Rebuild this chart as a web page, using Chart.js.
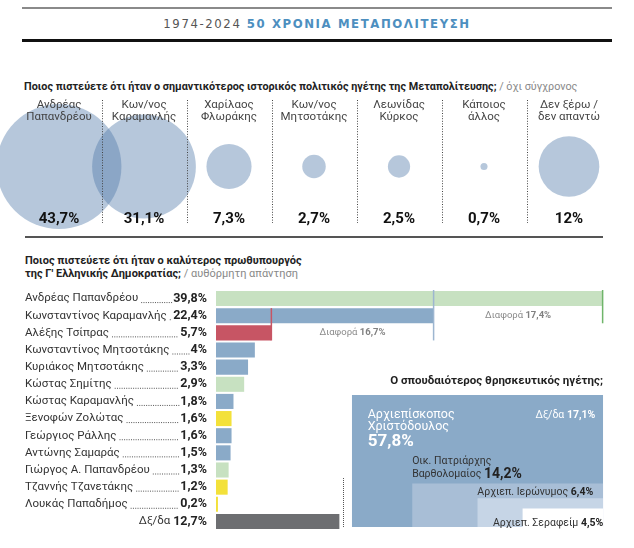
<!DOCTYPE html>
<html>
<head>
<meta charset="utf-8">
<script src="https://cdn.jsdelivr.net/npm/chart.js"></script>
<style>
body { margin: 0; width: 634px; height: 548px; position: relative; background: #fff; overflow: hidden;
       font-family: Roboto, "Noto Sans", sans-serif; color: #222; }
.abs { position: absolute; }
.linea { position: absolute; left: 22px; width: 590px; }
.titulo { left: 0; width: 634px; top: 16px; text-align: center; font-family: "DejaVu Sans Condensed", "DejaVu Sans", sans-serif;
          font-stretch: condensed; font-size: 13px; letter-spacing: 1.6px; color: #555; }
.titulo b { color: #4d8fbf; }
.pregunta { font-size: 11px; font-weight: bold; color: #222; line-height: 13px; }
.pregunta span { font-weight: normal; color: #888; }
</style>
</head>
<body>
<div class="linea" style="top:7px;height:2px;background:#8a8a8a"></div>
<div class="abs titulo">1974-2024 <b>50 ΧΡΟΝΙΑ ΜΕΤΑΠΟΛΙΤΕΥΣΗ</b></div>
<div class="linea" style="top:39px;height:3px;background:#111"></div>

<div class="abs pregunta" style="left:24px;top:80px;font-size:10.8px">Ποιος πιστεύετε ότι ήταν ο σημαντικότερος ιστορικός πολιτικός ηγέτης της Μεταπολίτευσης; <span>/ όχι σύγχρονος</span></div>
<canvas id="chartLideres" class="abs" style="left:0;top:95px" width="634" height="143"></canvas>
<div class="abs" style="left:25px;top:236px;width:578px;height:1.5px;background:#555"></div>

<div class="abs pregunta" style="left:25px;top:254px">Ποιος πιστεύετε ότι ήταν ο καλύτερος πρωθυπουργός<br>της Γ' Ελληνικής Δημοκρατίας; <span>/ αυθόρμητη απάντηση</span></div>
<canvas id="chartPrimeros" class="abs" style="left:0;top:290px" width="634" height="240"></canvas>

<div class="abs pregunta" style="left:340px;top:374px;width:263px;text-align:right;font-size:11.5px">Ο σπουδαιότερος θρησκευτικός ηγέτης;</div>
<div class="abs" style="left:343px;top:478px;height:49px;border-left:1px dotted #555"></div>
<canvas id="chartReligiosos" class="abs" style="left:340px;top:390px" width="294" height="145"></canvas>

<script>
// Σημαντικότερος πολιτικός ηγέτης
const lideresNombres = [
    ['Ανδρέας', 'Παπανδρέου'], ['Κων/νος', 'Καραμανλής'], ['Χαρίλαος', 'Φλωράκης'],
    ['Κων/νος', 'Μητσοτάκης'], ['Λεωνίδας', 'Κύρκος'], ['Κάποιος', 'άλλος'], ['Δεν ξέρω /', 'δεν απαντώ']
];
const lideresValores = [43.7, 31.1, 7.3, 2.7, 2.5, 0.7, 12];

// Καλύτερος πρωθυπουργός
const pmNombres = [
    'Ανδρέας Παπανδρέου', 'Κωνσταντίνος Καραμανλής', 'Αλέξης Τσίπρας', 'Κωνσταντίνος Μητσοτάκης',
    'Κυριάκος Μητσοτάκης', 'Κώστας Σημίτης', 'Κώστας Καραμανλής', 'Ξενοφών Ζολώτας', 'Γεώργιος Ράλλης',
    'Αντώνης Σαμαράς', 'Γιώργος Α. Παπανδρέου', 'Τζαννής Τζανετάκης', 'Λουκάς Παπαδήμος', 'Δξ/δα'
];
const pmValores = [39.8, 22.4, 5.7, 4, 3.3, 2.9, 1.8, 1.6, 1.6, 1.5, 1.3, 1.2, 0.2, 12.7];
const pmGrupo = ['pasok', 'nd', 'syriza', 'nd', 'nd', 'pasok', 'nd', 'otro', 'nd', 'nd', 'pasok', 'otro', 'otro', 'dxda'];

// Θρησκευτικός ηγέτης
const relNombres = ['Αρχιεπίσκοπος Χριστόδουλος', 'Δξ/δα', 'Οικ. Πατριάρχης Βαρθολομαίος', 'Αρχιεπ. Ιερώνυμος', 'Αρχιεπ. Σεραφείμ'];
const relValores = [57.8, 17.1, 14.2, 6.4, 4.5];

const coloresGrupo = { pasok: '#c7e1c1', nd: '#8aaac8', syriza: '#c75564', otro: '#f3e13a', dxda: '#6d6e71' };

function pct(v) {
    return String(v).replace('.', ',') + '%';
}

// Radio de la burbuja según el porcentaje
function radio(v) {
    return 10.2 * Math.sqrt(v) - 5;
}

// ---------- Burbujas ----------
const pluginLideres = {
    id: 'textosLideres',
    afterDatasetsDraw(chart) {
        const ctx = chart.ctx;
        const x = chart.scales.x;
        ctx.save();
        // separadores punteados
        ctx.strokeStyle = '#444';
        ctx.lineWidth = 1;
        ctx.setLineDash([1, 1.6]);
        for (let i = 1; i < lideresValores.length; i++) {
            const px = Math.round((x.getPixelForValue(i - 1) + x.getPixelForValue(i)) / 2) + 0.5;
            ctx.beginPath();
            ctx.moveTo(px, 5);
            ctx.lineTo(px, 128);
            ctx.stroke();
        }
        ctx.setLineDash([]);
        ctx.textAlign = 'center';
        ctx.textBaseline = 'middle';
        lideresValores.forEach((v, i) => {
            const px = x.getPixelForValue(i);
            ctx.fillStyle = '#444';
            ctx.font = '11.5px Roboto, "Noto Sans", sans-serif';
            ctx.fillText(lideresNombres[i][0], px, 10);
            ctx.fillText(lideresNombres[i][1], px, 22);
            ctx.fillStyle = '#111';
            ctx.font = 'bold 15px Roboto, "Noto Sans", sans-serif';
            ctx.fillText(pct(v), px, 124);
        });
        ctx.restore();
    }
};

new Chart(document.getElementById('chartLideres'), {
    type: 'bubble',
    data: {
        datasets: [{
            data: lideresValores.map((v, i) => ({ x: i, y: 0, r: radio(v) })),
            backgroundColor: 'rgba(80, 122, 170, 0.42)',
            borderWidth: 0,
            clip: false
        }]
    },
    options: {
        responsive: false,
        animation: false,
        events: [],
        layout: { autoPadding: false, padding: { left: 16.5, right: 22.5, top: 0, bottom: 0 } },
        scales: {
            x: { type: 'linear', min: -0.5, max: lideresValores.length - 0.5, display: false },
            y: { type: 'linear', min: -1, max: 1, display: false }
        },
        plugins: { legend: { display: false }, tooltip: { enabled: false } }
    },
    plugins: [pluginLideres]
});

// ---------- Barras ----------
function textoPartes(ctx, partes, x, y, align) {
    // partes: [[texto, fuente, color], ...]
    let total = 0;
    partes.forEach(p => { ctx.font = p[1]; total += ctx.measureText(p[0]).width; });
    let cx = align === 'right' ? x - total : (align === 'center' ? x - total / 2 : x);
    ctx.textAlign = 'left';
    partes.forEach(p => {
        ctx.font = p[1];
        ctx.fillStyle = p[2];
        ctx.fillText(p[0], cx, y);
        cx += ctx.measureText(p[0]).width;
    });
    return total;
}

const FN = '11.5px Roboto, "Noto Sans", sans-serif';
const FB = 'bold 12.5px Roboto, "Noto Sans", sans-serif';

const pluginPrimeros = {
    id: 'textosPrimeros',
    afterDatasetsDraw(chart) {
        const ctx = chart.ctx;
        const x = chart.scales.x;
        const y = chart.scales.y;
        const paso = y.getPixelForValue(1) - y.getPixelForValue(0);
        const xNombre = 25, xValor = 207;
        ctx.save();
        ctx.textBaseline = 'middle';
        pmNombres.forEach((n, i) => {
            const py = y.getPixelForValue(i);
            if (pmGrupo[i] === 'dxda') {
                textoPartes(ctx, [[n + ' ', FN, '#333'], [pct(pmValores[i]), FB, '#222']], xValor, py, 'right');
                return;
            }
            ctx.font = FN;
            ctx.fillStyle = '#333';
            ctx.textAlign = 'left';
            ctx.fillText(n, xNombre, py);
            const wN = ctx.measureText(n).width;
            ctx.font = FB;
            ctx.fillStyle = '#222';
            ctx.textAlign = 'right';
            ctx.fillText(pct(pmValores[i]), xValor, py);
            const wV = ctx.measureText(pct(pmValores[i])).width;
            ctx.fillStyle = '#555';
            for (let d = xNombre + wN + 3; d < xValor - wV - 2; d += 2.3) {
                ctx.fillRect(d, py + 3.5, 1, 1);
            }
        });

        // diferencias entre los primeros
        const x0 = x.getPixelForValue(pmValores[0]);
        const x1 = x.getPixelForValue(pmValores[1]);
        const x2 = x.getPixelForValue(pmValores[2]);
        const top0 = y.getPixelForValue(0) - paso / 2;
        const bot1 = y.getPixelForValue(1) + paso / 2 - 1;
        const bot2 = y.getPixelForValue(2) + paso / 2 - 1;
        ctx.lineWidth = 1.5;
        ctx.strokeStyle = '#6fb56a';
        ctx.beginPath(); ctx.moveTo(x0, top0); ctx.lineTo(x0, bot1); ctx.stroke();
        ctx.strokeStyle = '#9db6d0';
        ctx.beginPath(); ctx.moveTo(x1, top0); ctx.lineTo(x1, bot2); ctx.stroke();
        ctx.strokeStyle = '#c75564';
        ctx.beginPath(); ctx.moveTo(x2, y.getPixelForValue(1) - paso / 2 + 1); ctx.lineTo(x2, bot2); ctx.stroke();

        const dif1 = Math.round((pmValores[0] - pmValores[1]) * 10) / 10;
        const dif2 = Math.round((pmValores[1] - pmValores[2]) * 10) / 10;
        const fD = '9.5px Roboto, "Noto Sans", sans-serif';
        const fDb = 'bold 9.5px Roboto, "Noto Sans", sans-serif';
        textoPartes(ctx, [['Διαφορά ', fD, '#8a8a8a'], [pct(dif1), fDb, '#808080']], (x0 + x1) / 2, y.getPixelForValue(1), 'center');
        textoPartes(ctx, [['Διαφορά ', fD, '#8a8a8a'], [pct(dif2), fDb, '#808080']], (x1 + x2) / 2, y.getPixelForValue(2), 'center');
        ctx.restore();
    }
};

new Chart(document.getElementById('chartPrimeros'), {
    type: 'bar',
    data: {
        labels: pmNombres,
        datasets: [{
            data: pmValores,
            backgroundColor: pmGrupo.map(g => coloresGrupo[g]),
            borderWidth: 0,
            barPercentage: 0.88,
            categoryPercentage: 1
        }]
    },
    options: {
        indexAxis: 'y',
        responsive: false,
        animation: false,
        events: [],
        layout: { padding: { left: 216, right: 10, top: 0, bottom: 0 } },
        scales: {
            x: { min: 0, max: 42, display: false },
            y: { display: false }
        },
        plugins: { legend: { display: false }, tooltip: { enabled: false } }
    },
    plugins: [pluginPrimeros]
});

// ---------- Rectángulos anidados ----------
const ASPECTO = 2.3;
// niveles anidados: todo, Βαρθολομαίος+Ιερώνυμος+Σεραφείμ, Ιερώνυμος+Σεραφείμ, Σεραφείμ
const niveles = [relValores.reduce((a, b) => a + b, 0),
                 relValores[2] + relValores[3] + relValores[4],
                 relValores[3] + relValores[4],
                 relValores[4]];
const coloresNivel = ['#8aaac8', '#a8bed6', '#c6d5e6', '#ffffff'];

function rectNivel(total, s) {
    const f = s / total;
    const w = Math.min(1, Math.sqrt(f * ASPECTO));
    const h = Math.min(1, f / w);
    return { x0: 1 - w, h: h };
}

const totalRel = niveles[0];
const rects = niveles.map(s => rectNivel(totalRel, s));

const pluginReligiosos = {
    id: 'textosReligiosos',
    afterDatasetsDraw(chart) {
        const ctx = chart.ctx;
        const x = chart.scales.x;
        const y = chart.scales.y;
        const R = rects.map(r => ({ left: x.getPixelForValue(r.x0), top: y.getPixelForValue(r.h) }));
        const right = x.getPixelForValue(1);
        const bottom = y.getPixelForValue(0);
        const fN = '12.5px Roboto, "Noto Sans", sans-serif';
        const fS = '10.5px Roboto, "Noto Sans", sans-serif';
        const fSb = 'bold 10.5px Roboto, "Noto Sans", sans-serif';
        ctx.save();
        ctx.textBaseline = 'middle';
        // Χριστόδουλος
        const nom0 = relNombres[0].split(' ');
        ctx.fillStyle = '#fff';
        ctx.font = fN;
        ctx.textAlign = 'left';
        ctx.fillText(nom0[0], R[0].left + 16, R[0].top + 20);
        ctx.fillText(nom0[1], R[0].left + 16, R[0].top + 32);
        ctx.font = 'bold 17px Roboto, "Noto Sans", sans-serif';
        ctx.fillText(pct(relValores[0]), R[0].left + 16, R[0].top + 47);
        // Δξ/δα
        textoPartes(ctx, [[relNombres[1] + ' ', fS, '#fff'], [pct(relValores[1]), fSb, '#fff']], right - 8, R[0].top + 20, 'right');
        // Βαρθολομαίος
        const nom2 = relNombres[2].split(' ');
        ctx.fillStyle = '#333';
        ctx.font = fS;
        ctx.textAlign = 'left';
        ctx.fillText(nom2[0] + ' ' + nom2[1], R[1].left, R[1].top - 22);
        textoPartes(ctx, [[nom2[2] + ' ', fS, '#333'], [pct(relValores[2]), 'bold 14px Roboto, "Noto Sans", sans-serif', '#222']], R[1].left, R[1].top - 9, 'left');
        // Ιερώνυμος
        textoPartes(ctx, [[relNombres[3] + ' ', fS, '#333'], [pct(relValores[3]), fSb, '#222']], R[2].left, R[1].top + 9, 'left');
        // Σεραφείμ
        textoPartes(ctx, [[relNombres[4] + ' ', fS, '#333'], [pct(relValores[4]), fSb, '#222']], right, bottom - 4, 'right');
        ctx.restore();
    }
};

new Chart(document.getElementById('chartReligiosos'), {
    type: 'scatter',
    data: {
        // el más interior primero para que quede encima
        datasets: rects.map((r, i) => ({
            data: [{ x: r.x0, y: 0 }, { x: r.x0, y: r.h }, { x: 1, y: r.h }, { x: 1, y: 0 }],
            showLine: true,
            fill: 'origin',
            backgroundColor: coloresNivel[i],
            borderWidth: 0,
            pointRadius: 0,
            tension: 0
        })).reverse()
    },
    options: {
        responsive: false,
        animation: false,
        events: [],
        layout: { autoPadding: false, padding: { left: 11.7, right: 30.7, top: 5, bottom: 8 } },
        scales: {
            x: { type: 'linear', min: 0, max: 1, display: false },
            y: { type: 'linear', min: 0, max: 1, display: false }
        },
        plugins: { legend: { display: false }, tooltip: { enabled: false } }
    },
    plugins: [pluginReligiosos]
});
</script>
</body>
</html>
